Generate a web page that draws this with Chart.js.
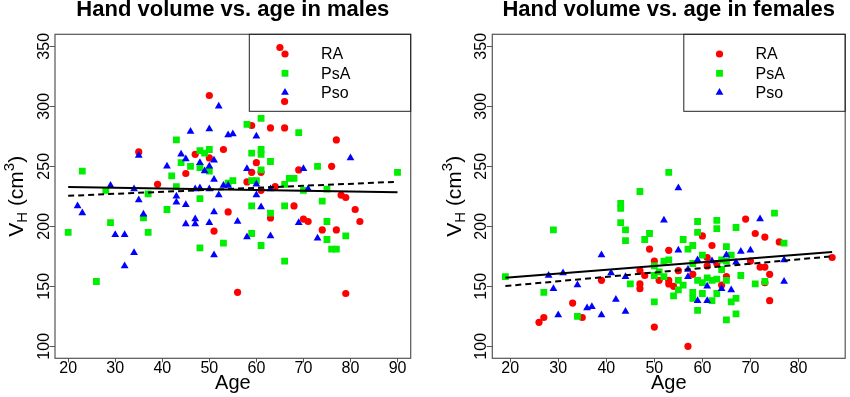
<!DOCTYPE html>
<html>
<head>
<meta charset="utf-8">
<script src="https://cdn.jsdelivr.net/npm/chart.js@4.4.0/dist/chart.umd.min.js"></script>
<style>
body { margin: 0; background: #fff; }
canvas { position: absolute; top: 0; }
</style>
</head>
<body>
<canvas id="males" width="425" height="397" style="left:0px"></canvas>
<canvas id="females" width="425" height="397" style="left:425px"></canvas>
<script>
// values (age, hand volume)
const maleRA_age = [65,66,50,35,39,45,47,50,51,53,54,56,59,58,59,60,61,61,63,63,64,66,68,69,70,71,74,76,77,77,78,79,79,81,82]
const maleRA_vol = [349,304,309,262,235,244,260,257,196,264,212,145,284,237,245,253,245,230,282,207,233,282,217,247,206,204,197,250,272,197,226,224,144,214,204]

const malePsA_age = [20,23,26,28,29,36,37,37,41,42,43,43,44,46,48,48,48,48,49,50,50,53,54,55,58,59,59,59,59,60,61,61,61,61,61,63,63,66,66,66,67,68,69,70,73,74,75,75,75,76,77,79,90]
const malePsA_vol = [195,246,154,230,203,207,227,195,214,242,272,233,253,250,263,249,223,182,261,264,246,186,236,238,285,261,238,217,194,238,290,264,260,247,184,254,211,235,217,171,240,240,278,230,250,221,231,204,189,181,181,192,245]

const malePso_age = [22,23,29,30,32,32,34,34,35,35,36,41,43,43,44,45,45,45,46,47,47,47,48,48,49,50,50,50,50,51,51,51,51,52,52,53,54,54,55,56,58,58,60,60,60,61,63,63,69,70,71,73,80]
const malePso_vol = [217,211,234,193,193,167,231,178,259,222,210,250,225,220,260,256,218,202,279,231,206,202,253,232,246,281,250,231,203,255,239,212,176,300,226,234,276,234,277,204,248,191,275,235,226,216,231,192,203,248,231,190,257]

const femaleRA_age = [26,27,33,35,39,47,47,47,48,49,50,50,51,53,53,53,54,55,57,58,60,61,61,62,63,64,65,69,70,71,72,73,73,73,74,74,76,87]
const femaleRA_vol = [120,124,136,124,155,163,152,148,159,181,171,116,155,180,155,152,150,163,100,160,192,174,167,184,169,151,158,206,171,194,166,191,166,153,160,138,187,174]

const femalePsA_age = [19,27,29,34,43,43,43,44,44,45,47,48,49,50,50,50,51,52,52,53,53,54,55,55,56,56,57,58,58,58,58,59,59,59,59,60,60,60,61,62,62,63,63,63,63,64,64,65,65,65,65,66,66,67,67,67,68,71,73,75,77]
const femalePsA_vol = [158,145,197,125,219,215,203,197,188,152,229,189,194,167,137,159,162,171,158,245,172,142,155,147,189,151,181,184,169,145,140,204,195,155,130,176,153,144,157,138,155,205,198,156,144,172,164,183,155,122,171,176,137,199,140,127,159,152,154,211,186]

const femalePso_age = [28,29,30,31,34,36,37,39,39,41,42,44,44,52,55,55,57,57,59,59,61,61,62,64,65,66,67,68,70,72,77,77]
const femalePso_vol = [159,148,126,161,151,132,133,176,126,161,139,158,129,205,232,180,164,158,172,138,150,138,171,148,176,147,170,179,180,206,172,154]

// fitted lines (end points)
const maleLineX = [20, 90]
const maleSolidY = [232.7, 228.3]
const maleDashedY = [225.4, 237.1]
const femaleLineX = [19, 87]
const femaleSolidY = [157.2, 178.6]
const femaleDashedY = [150.2, 175]

const yTicks = [100, 150, 200, 250, 300, 350]
const maleXTicks = [20, 30, 40, 50, 60, 70, 80, 90]
const femaleXTicks = [20, 30, 40, 50, 60, 70, 80]

const groups = ['RA', 'PsA', 'Pso']
const colors = ['#ff0000', '#00ee00', '#0000ff']
const styles = ['circle', 'rect', 'triangle']
const radii = [3.6, 4.8, 4.5]

const FONT = '"Liberation Sans", Arial, sans-serif'
Chart.defaults.font.family = FONT

function zip(xs, ys) {
    return xs.map((x, i) => ({x: x, y: ys[i]}))
}

// box, title, axis names, y labels and legend, drawn like R does
const rPlot = {
    id: 'rPlot',
    afterDraw(chart, args, opts) {
        const ctx = chart.ctx
        const a = chart.chartArea
        const ys = chart.scales.y
        const cx = (a.left + a.right) / 2
        const cy = (a.top + a.bottom) / 2
        ctx.save()
        ctx.strokeStyle = '#555'
        ctx.lineWidth = 1.2
        ctx.strokeRect(a.left, a.top, a.right - a.left, a.bottom - a.top)

        ctx.fillStyle = '#000'
        ctx.textAlign = 'center'
        ctx.textBaseline = 'alphabetic'
        ctx.font = 'bold 22px ' + FONT
        ctx.fillText(opts.title, cx, 16)

        ctx.font = '20px ' + FONT
        ctx.fillText('Age', cx, 388.5)

        // rotated y tick labels
        ctx.font = '16px ' + FONT
        yTicks.forEach(v => {
            ctx.save()
            ctx.translate(a.left - 6.5, ys.getPixelForValue(v))
            ctx.rotate(-Math.PI / 2)
            ctx.fillText(String(v), 0, 0)
            ctx.restore()
        })

        // y title V_H (cm^3)
        const parts = [['V', 21, 0], ['H', 15, 4], [' (cm', 21, 0], ['3', 15, -9], [')', 21, 0]]
        let total = 0
        parts.forEach(p => { ctx.font = p[1] + 'px ' + FONT; total += ctx.measureText(p[0]).width })
        ctx.save()
        ctx.translate(a.left - 31.7, cy)
        ctx.rotate(-Math.PI / 2)
        ctx.textAlign = 'left'
        let pos = -total / 2
        parts.forEach(p => {
            ctx.font = p[1] + 'px ' + FONT
            ctx.fillText(p[0], pos, p[2])
            pos += ctx.measureText(p[0]).width
        })
        ctx.restore()

        // legend
        const lx = a.right - 161.4
        ctx.strokeStyle = '#222'
        ctx.lineWidth = 1
        ctx.strokeRect(lx, a.top, a.right - lx, 111.3 - a.top)
        ctx.font = '16px ' + FONT
        ctx.textAlign = 'left'
        ctx.textBaseline = 'middle'
        groups.forEach((g, i) => {
            const y = a.top + 19.7 + i * 19.3
            ctx.fillStyle = colors[i]
            Chart.helpers.drawPoint(ctx, {pointStyle: styles[i], radius: radii[i], rotation: 0, borderWidth: 0}, lx + 35.7, y)
            ctx.fillStyle = '#000'
            ctx.fillText(g, lx + 71.7, y + 1)
        })
        ctx.restore()
    }
}

function makeChart(id, title, sets, lineX, solidY, dashedY, xMin, xMax, xTicks, yWidth, padRight) {
    const datasets = sets.map((s, i) => ({
        label: groups[i],
        data: zip(s[0], s[1]),
        pointStyle: styles[i],
        pointRadius: radii[i],
        backgroundColor: colors[i],
        borderWidth: 0,
        order: 3 - i
    }))
    datasets.push({data: zip(lineX, solidY), showLine: true, borderColor: '#000', borderWidth: 2, pointRadius: 0, order: 0})
    datasets.push({data: zip(lineX, dashedY), showLine: true, borderColor: '#000', borderWidth: 2, borderDash: [6, 4], pointRadius: 0, order: 0})

    return new Chart(document.getElementById(id), {
        type: 'scatter',
        data: {datasets: datasets},
        options: {
            responsive: false,
            animation: false,
            devicePixelRatio: 1,
            events: [],
            layout: {padding: {top: 34.3, right: padRight, left: 0, bottom: 0}},
            scales: {
                x: {
                    type: 'linear', min: xMin, max: xMax,
                    afterBuildTicks: s => { s.ticks = xTicks.map(v => ({value: v})) },
                    afterFit: s => { s.height = 38.7 },
                    grid: {drawOnChartArea: false, drawTicks: true, tickLength: 4, color: '#555'},
                    border: {display: false},
                    ticks: {font: {size: 16}, color: '#000', padding: -3.5, maxRotation: 0, autoSkip: false}
                },
                y: {
                    type: 'linear', min: 90, max: 360,
                    afterBuildTicks: s => { s.ticks = yTicks.map(v => ({value: v})) },
                    afterFit: s => { s.width = yWidth },
                    grid: {drawOnChartArea: false, drawTicks: true, tickLength: 5.5, color: '#555'},
                    border: {display: false},
                    ticks: {display: false}
                }
            },
            plugins: {
                legend: {display: false},
                tooltip: {enabled: false},
                rPlot: {title: title}
            }
        },
        plugins: [rPlot]
    })
}

makeChart('males', 'Hand volume vs. age in males',
    [[maleRA_age, maleRA_vol], [malePsA_age, malePsA_vol], [malePso_age, malePso_vol]],
    maleLineX, maleSolidY, maleDashedY, 17.2, 92.8, maleXTicks, 55, 14.3)

makeChart('females', 'Hand volume vs. age in females',
    [[femaleRA_age, femaleRA_vol], [femalePsA_age, femalePsA_vol], [femalePso_age, femalePso_vol]],
    femaleLineX, femaleSolidY, femaleDashedY, 16.28, 89.72, femaleXTicks, 67.3, 1.7)
</script>
</body>
</html>
